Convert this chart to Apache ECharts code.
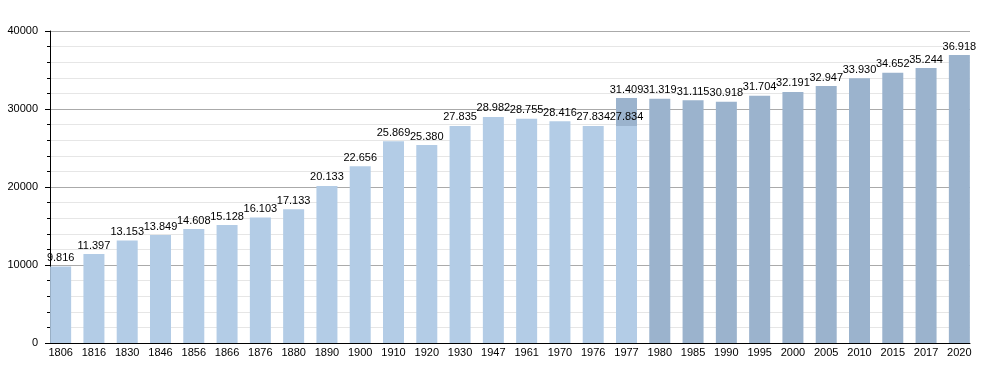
<!DOCTYPE html>
<html><head><meta charset="utf-8">
<script src="https://cdn.jsdelivr.net/npm/echarts@6/dist/echarts.min.js"></script>
<style>html,body{margin:0;padding:0;background:#fff}#c{width:1000px;height:373px}</style>
</head><body><div id="c"></div>
<script>
var years = ['1806','1816','1830','1846','1856','1866','1876','1880','1890','1900','1910','1920','1930','1947','1961','1970','1976','1977','1980','1985','1990','1995','2000','2005','2010','2015','2017','2020'];
var oldValues = [9816,11397,13153,13849,14608,15128,16103,17133,20133,22656,25869,25380,27835,28982,28755,28416,27834,27834,null,null,null,null,null,null,null,null,null,null];
var newValues = [null,null,null,null,null,null,null,null,null,null,null,null,null,null,null,null,null,31409,31319,31115,30918,31704,32191,32947,33930,34652,35244,36918];
var yTicks = [0,10000,20000,30000,40000];

function fmt(v){ return String(v).replace(/\B(?=(\d{3})+(?!\d))/g,'.'); }
var font = 'Liberation Sans, Arial, sans-serif';
var chart = echarts.init(document.getElementById('c'), null, {renderer:'canvas'});
var labelCfg = {show:true, position:'top', distance:3, color:'#000', fontSize:11, fontFamily:font,
  formatter:function(p){ return p.value==null?'':fmt(p.value); }};
chart.setOption({
  animation:false,
  grid:[
    {left:44, top:31, width:932, height:312, containLabel:false},
    {left:50, top:31, width:920, height:312, containLabel:false}
  ],
  xAxis:[
    {gridIndex:0, type:'category', data:years, boundaryGap:true,
     axisLine:{show:false}, axisTick:{show:false},
     axisLabel:{color:'#000', fontSize:11, fontFamily:font, margin:4, interval:0}},
    {gridIndex:1, type:'value', min:0, max:1, show:true,
     axisLine:{show:true, onZero:false, lineStyle:{color:'#000', width:1}}, axisTick:{show:false}, axisLabel:{show:false}, splitLine:{show:false}}
  ],
  yAxis:[
    {gridIndex:0, type:'value', min:yTicks[0], max:yTicks[yTicks.length-1], interval:10000, show:false, splitLine:{show:false}},
    {gridIndex:1, type:'value', min:yTicks[0], max:yTicks[yTicks.length-1], interval:10000,
     axisLine:{show:true, lineStyle:{color:'#000', width:1}},
     axisTick:{show:true, length:5, lineStyle:{color:'#000'}},
     minorTick:{show:true, splitNumber:5, length:3, lineStyle:{color:'#000'}},
     axisLabel:{color:'#000', fontSize:11, fontFamily:font, margin:12, formatter:function(v){return String(v);}},
     splitLine:{show:true, lineStyle:{color:'#aaaaaa', width:1}},
     minorSplitLine:{show:true, lineStyle:{color:'#e6e6e6', width:1}}}
  ],
  series:[
    {type:'bar', xAxisIndex:0, yAxisIndex:0, data:newValues, barWidth:21, barGap:'-100%',
     itemStyle:{color:'#9bb3cd'}, label:labelCfg, z:3},
    {type:'bar', xAxisIndex:0, yAxisIndex:0, data:oldValues, barWidth:21, barGap:'-100%',
     itemStyle:{color:'#b3cce6'}, label:labelCfg, z:3}
  ]
});
</script></body></html>
